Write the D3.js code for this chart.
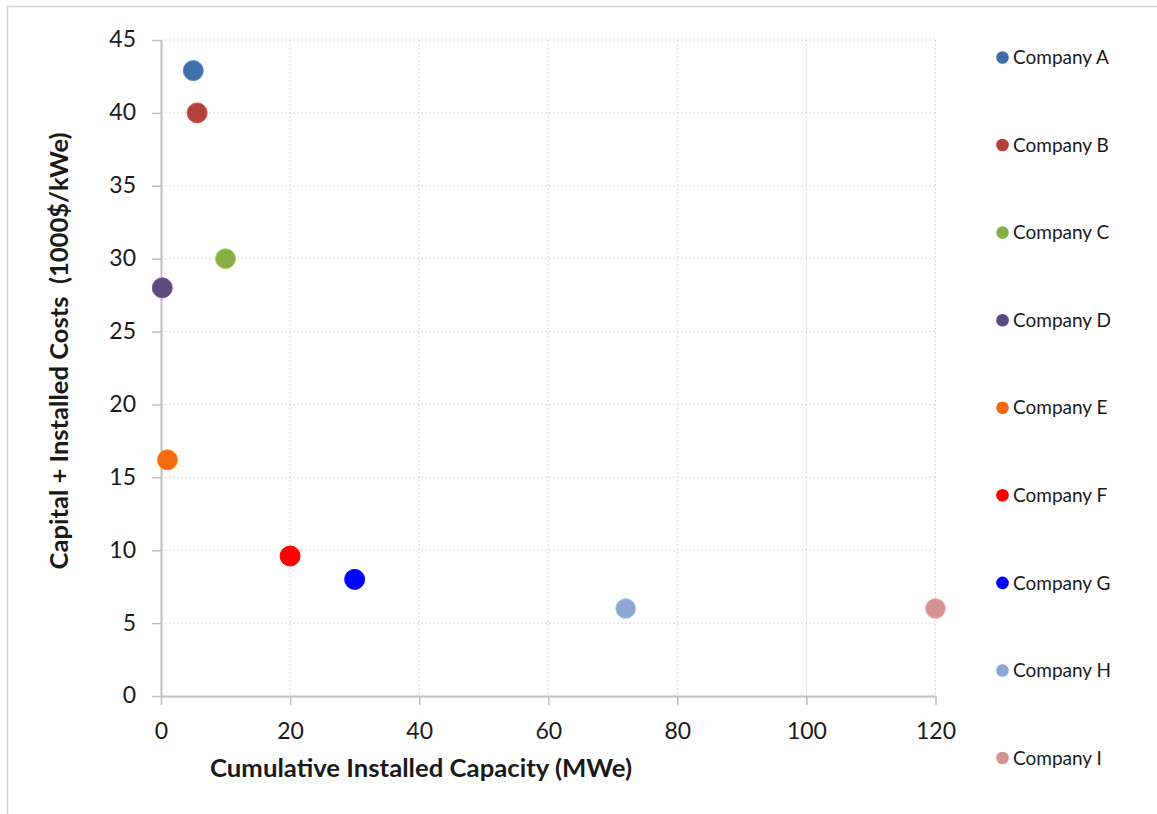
<!DOCTYPE html>
<html><head><meta charset="utf-8">
<script src="https://cdn.jsdelivr.net/npm/d3@7"></script>
<style>
html,body{margin:0;padding:0;background:#fff;}
svg{display:block;}
text{font-family:Lato, "Open Sans", sans-serif;fill:#1a1a1a;}
</style></head>
<body>
<svg id="chart" width="1157" height="814"></svg>
<script>
const companies = ["Company A","Company B","Company C","Company D","Company E","Company F","Company G","Company H","Company I"];
const capacity = [5, 5.6, 10, 0.2, 1, 20, 30, 72, 120];
const cost = [42.9, 40, 30, 28, 16.2, 9.6, 8, 6, 6];
const colors = ["#3F6EA9","#B2413E","#8AAE47","#5D4A7F","#F46A10","#FF0000","#0000FF","#8DA6D2","#D49290"];
const xTicks = [0,20,40,60,80,100,120];
const yTicks = [0,5,10,15,20,25,30,35,40,45];
const xTitle = "Cumulative Installed Capacity (MWe)";
const yTitle = "Capital + Installed Costs\u00a0 (1000$/kWe)";

const svg = d3.select("#chart");
// outer chart border
svg.append("rect").attr("x",7.5).attr("y",6.5).attr("width",1300).attr("height",1000)
  .attr("fill","none").attr("stroke","#d4d4d4").attr("stroke-width",1.5);

const x = d3.scaleLinear().domain([0,120]).range([161,935.5]);
const y = d3.scaleLinear().domain([0,45]).range([696,40]);

// gridlines
const g = svg.append("g");
g.selectAll(".vg").data(xTicks.filter(d=>d>0)).join("line")
  .attr("x1",d=>x(d)).attr("x2",d=>x(d)).attr("y1",y(45)).attr("y2",y(0))
  .attr("stroke","#d9d9d9").attr("stroke-width",1).attr("stroke-dasharray","2,2");
g.selectAll(".hg").data(yTicks.filter(d=>d>0)).join("line")
  .attr("x1",x(0)).attr("x2",x(120)).attr("y1",d=>y(d)).attr("y2",d=>y(d))
  .attr("stroke","#d9d9d9").attr("stroke-width",1).attr("stroke-dasharray","2,2");

// axes
const xAxis = d3.axisBottom(x).tickValues(xTicks).tickSize(9).tickSizeOuter(0).tickPadding(18);
const yAxis = d3.axisLeft(y).tickValues(yTicks).tickSize(9).tickSizeOuter(0).tickPadding(16);
const gx = svg.append("g").attr("transform",`translate(0,${y(0)})`).call(xAxis);
const gy = svg.append("g").attr("transform",`translate(${x(0)},0)`).call(yAxis);
[gx,gy].forEach(a=>{
  a.select(".domain").attr("stroke","#bfbfbf").attr("stroke-width",2);
  a.selectAll(".tick line").attr("stroke","#bfbfbf").attr("stroke-width",1.5);
  a.selectAll(".tick text").style("font-family","Lato, sans-serif").style("font-size","23px").attr("fill","#1a1a1a");
});
gy.selectAll(".tick text").attr("dy","0.3em");

// titles
svg.append("text").attr("x",421).attr("y",777).attr("text-anchor","middle")
  .attr("textLength",422).attr("lengthAdjust","spacingAndGlyphs")
  .style("font-size","24px").style("font-weight","bold").text(xTitle);
svg.append("text").attr("transform",`translate(68,351) rotate(-90)`).attr("text-anchor","middle")
  .attr("textLength",437).attr("lengthAdjust","spacingAndGlyphs")
  .style("font-size","24px").style("font-weight","bold").text(yTitle);

// points
svg.append("g").selectAll("circle").data(companies).join("circle")
  .attr("cx",(d,i)=>x(capacity[i])).attr("cy",(d,i)=>y(cost[i])).attr("r",10)
  .attr("fill",(d,i)=>colors[i]).attr("stroke",(d,i)=>d3.color(colors[i]).brighter(0.6)).attr("stroke-width",1);

// legend
const leg = svg.append("g");
const legY = d3.scalePoint().domain(companies).range([57.5,758]);
leg.selectAll("circle").data(companies).join("circle")
  .attr("cx",1002.5).attr("cy",d=>legY(d)).attr("r",6.3)
  .attr("fill",(d,i)=>colors[i]);
leg.selectAll("text").data(companies).join("text")
  .attr("x",1013).attr("y",d=>legY(d)).attr("dy","0.35em")
  .style("font-size","19px").attr("fill","#222").text(d=>d);
</script>
</body></html>
